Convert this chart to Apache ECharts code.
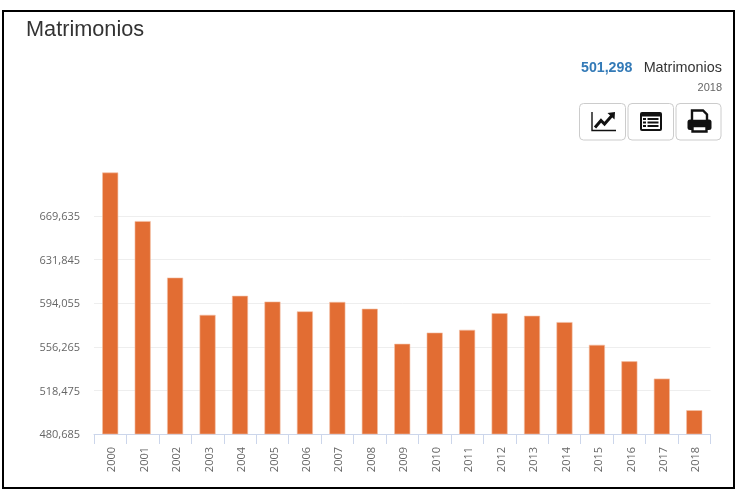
<!DOCTYPE html>
<html>
<head>
<meta charset="utf-8">
<style>html,body{margin:0;padding:0;background:#fff}#chart{width:741px;height:489px}</style>
<script src="https://cdn.jsdelivr.net/npm/echarts@6/dist/echarts.min.js"></script>
</head>
<body>
<div id="chart"></div>
<script>
// Annual marriages, 2000-2018
const years = ['2000','2001','2002','2003','2004','2005','2006','2007','2008','2009','2010','2011','2012','2013','2014','2015','2016','2017','2018'];
const marriages = [707400,665300,616300,584000,600500,595500,587000,595200,589300,558900,568600,571000,585400,583200,577700,558000,543700,528700,501298];
const yTicks = [480685,518475,556265,594055,631845,669635];
const yMin = 480685;
const yMax = 707425;
const titleText = 'Matrimonios';
const latestValue = '501,298';
const latestYear = '2018';

const ink = '#111';
const button = (x, w) => ({
  type: 'rect', shape: {x, y: 103.5, width: w, height: 36.5, r: 4},
  style: {fill: '#fff', stroke: '#ccc', lineWidth: 1}
});

const chart = echarts.init(document.getElementById('chart'));
chart.setOption({
  animation: false,
  backgroundColor: '#fff',
  grid: {left: 94, right: 30.5, top: 172.5, bottom: 55, containLabel: false},
  xAxis: {
    type: 'category',
    data: years,
    axisLine: {lineStyle: {color: '#ccd6eb', width: 1}},
    axisTick: {show: true, alignWithLabel: false, length: 10, lineStyle: {color: '#ccd6eb'}},
    axisLabel: {rotate: 90, margin: 13, interval: 0, verticalAlign: 'top', lineHeight: 14, padding: [-5, 0, 0, 0], color: '#666', fontFamily: 'Open Sans', fontSize: 11}
  },
  yAxis: {
    type: 'value',
    min: yMin,
    max: yMax,
    axisLine: {show: false},
    axisTick: {show: false, customValues: yTicks},
    axisLabel: {
      customValues: yTicks, margin: 14, verticalAlign: 'top', lineHeight: 14, padding: [-6, 0, 0, 0], color: '#666', fontFamily: 'Open Sans', fontSize: 11,
      formatter: v => v.toLocaleString('en-US')
    },
    splitLine: {show: true, lineStyle: {color: '#eeeeee', width: 1}}
  },
  series: [{
    type: 'bar',
    data: marriages,
    barWidth: 16,
    itemStyle: {color: '#e26d33', borderColor: '#f3c0a4', borderWidth: 0.6}
  }],
  graphic: {elements: [
    // outer frame
    {type: 'rect', shape: {x: 3, y: 11, width: 731, height: 477}, style: {fill: 'none', stroke: '#000', lineWidth: 2}, z: 10},
    // heading
    {type: 'text', x: 26, y: 19, style: {text: titleText, fill: '#333', font: '21.7px "Liberation Sans"'}},
    // latest figure
    {type: 'text', x: 581, y: 61.5, style: {text: latestValue, fill: '#337ab7', font: 'bold 14.2px "Liberation Sans"'}},
    {type: 'text', x: 722, y: 61.5, style: {text: titleText, fill: '#333', align: 'right', font: '14.4px "Liberation Sans"'}},
    {type: 'text', x: 722, y: 82, style: {text: latestYear, fill: '#666', align: 'right', font: '11px "Liberation Sans"'}},
    // toolbar buttons
    button(579.5, 46), button(628, 45.5), button(676, 45),
    // line-chart icon
    {type: 'polyline', shape: {points: [[592, 112], [592, 130.5], [616, 130.5]]}, style: {fill: 'none', stroke: ink, lineWidth: 1.4}},
    {type: 'polyline', shape: {points: [[595, 127.5], [601, 120.5], [604.5, 124], [612, 115.5]]}, style: {fill: 'none', stroke: ink, lineWidth: 3}},
    {type: 'polygon', shape: {points: [[607.5, 113], [615, 112], [614.5, 119.5]]}, style: {fill: ink}},
    // table icon
    {type: 'rect', shape: {x: 640, y: 112, width: 22, height: 19, r: 2}, style: {fill: ink}},
    {type: 'rect', shape: {x: 642, y: 116.5, width: 18, height: 12.5}, style: {fill: '#fff'}},
    {type: 'rect', shape: {x: 643, y: 118, width: 3, height: 2}, style: {fill: ink}},
    {type: 'rect', shape: {x: 643, y: 121.5, width: 3, height: 2}, style: {fill: ink}},
    {type: 'rect', shape: {x: 643, y: 125, width: 3, height: 2}, style: {fill: ink}},
    {type: 'rect', shape: {x: 647.5, y: 118, width: 11, height: 2}, style: {fill: ink}},
    {type: 'rect', shape: {x: 647.5, y: 121.5, width: 11, height: 2}, style: {fill: ink}},
    {type: 'rect', shape: {x: 647.5, y: 125, width: 11, height: 2}, style: {fill: ink}},
    // printer icon
    {type: 'rect', shape: {x: 687.5, y: 119.5, width: 24, height: 10.5, r: 2.5}, style: {fill: ink}},
    {type: 'polygon', shape: {points: [[692, 110.5], [703, 110.5], [707, 114.5], [707, 121], [692, 121]]}, style: {fill: '#fff', stroke: ink, lineWidth: 2.4}},
    {type: 'rect', shape: {x: 692.5, y: 126, width: 14, height: 5.5}, style: {fill: '#fff', stroke: ink, lineWidth: 2.4}}
  ]}
});
</script>
</body>
</html>
